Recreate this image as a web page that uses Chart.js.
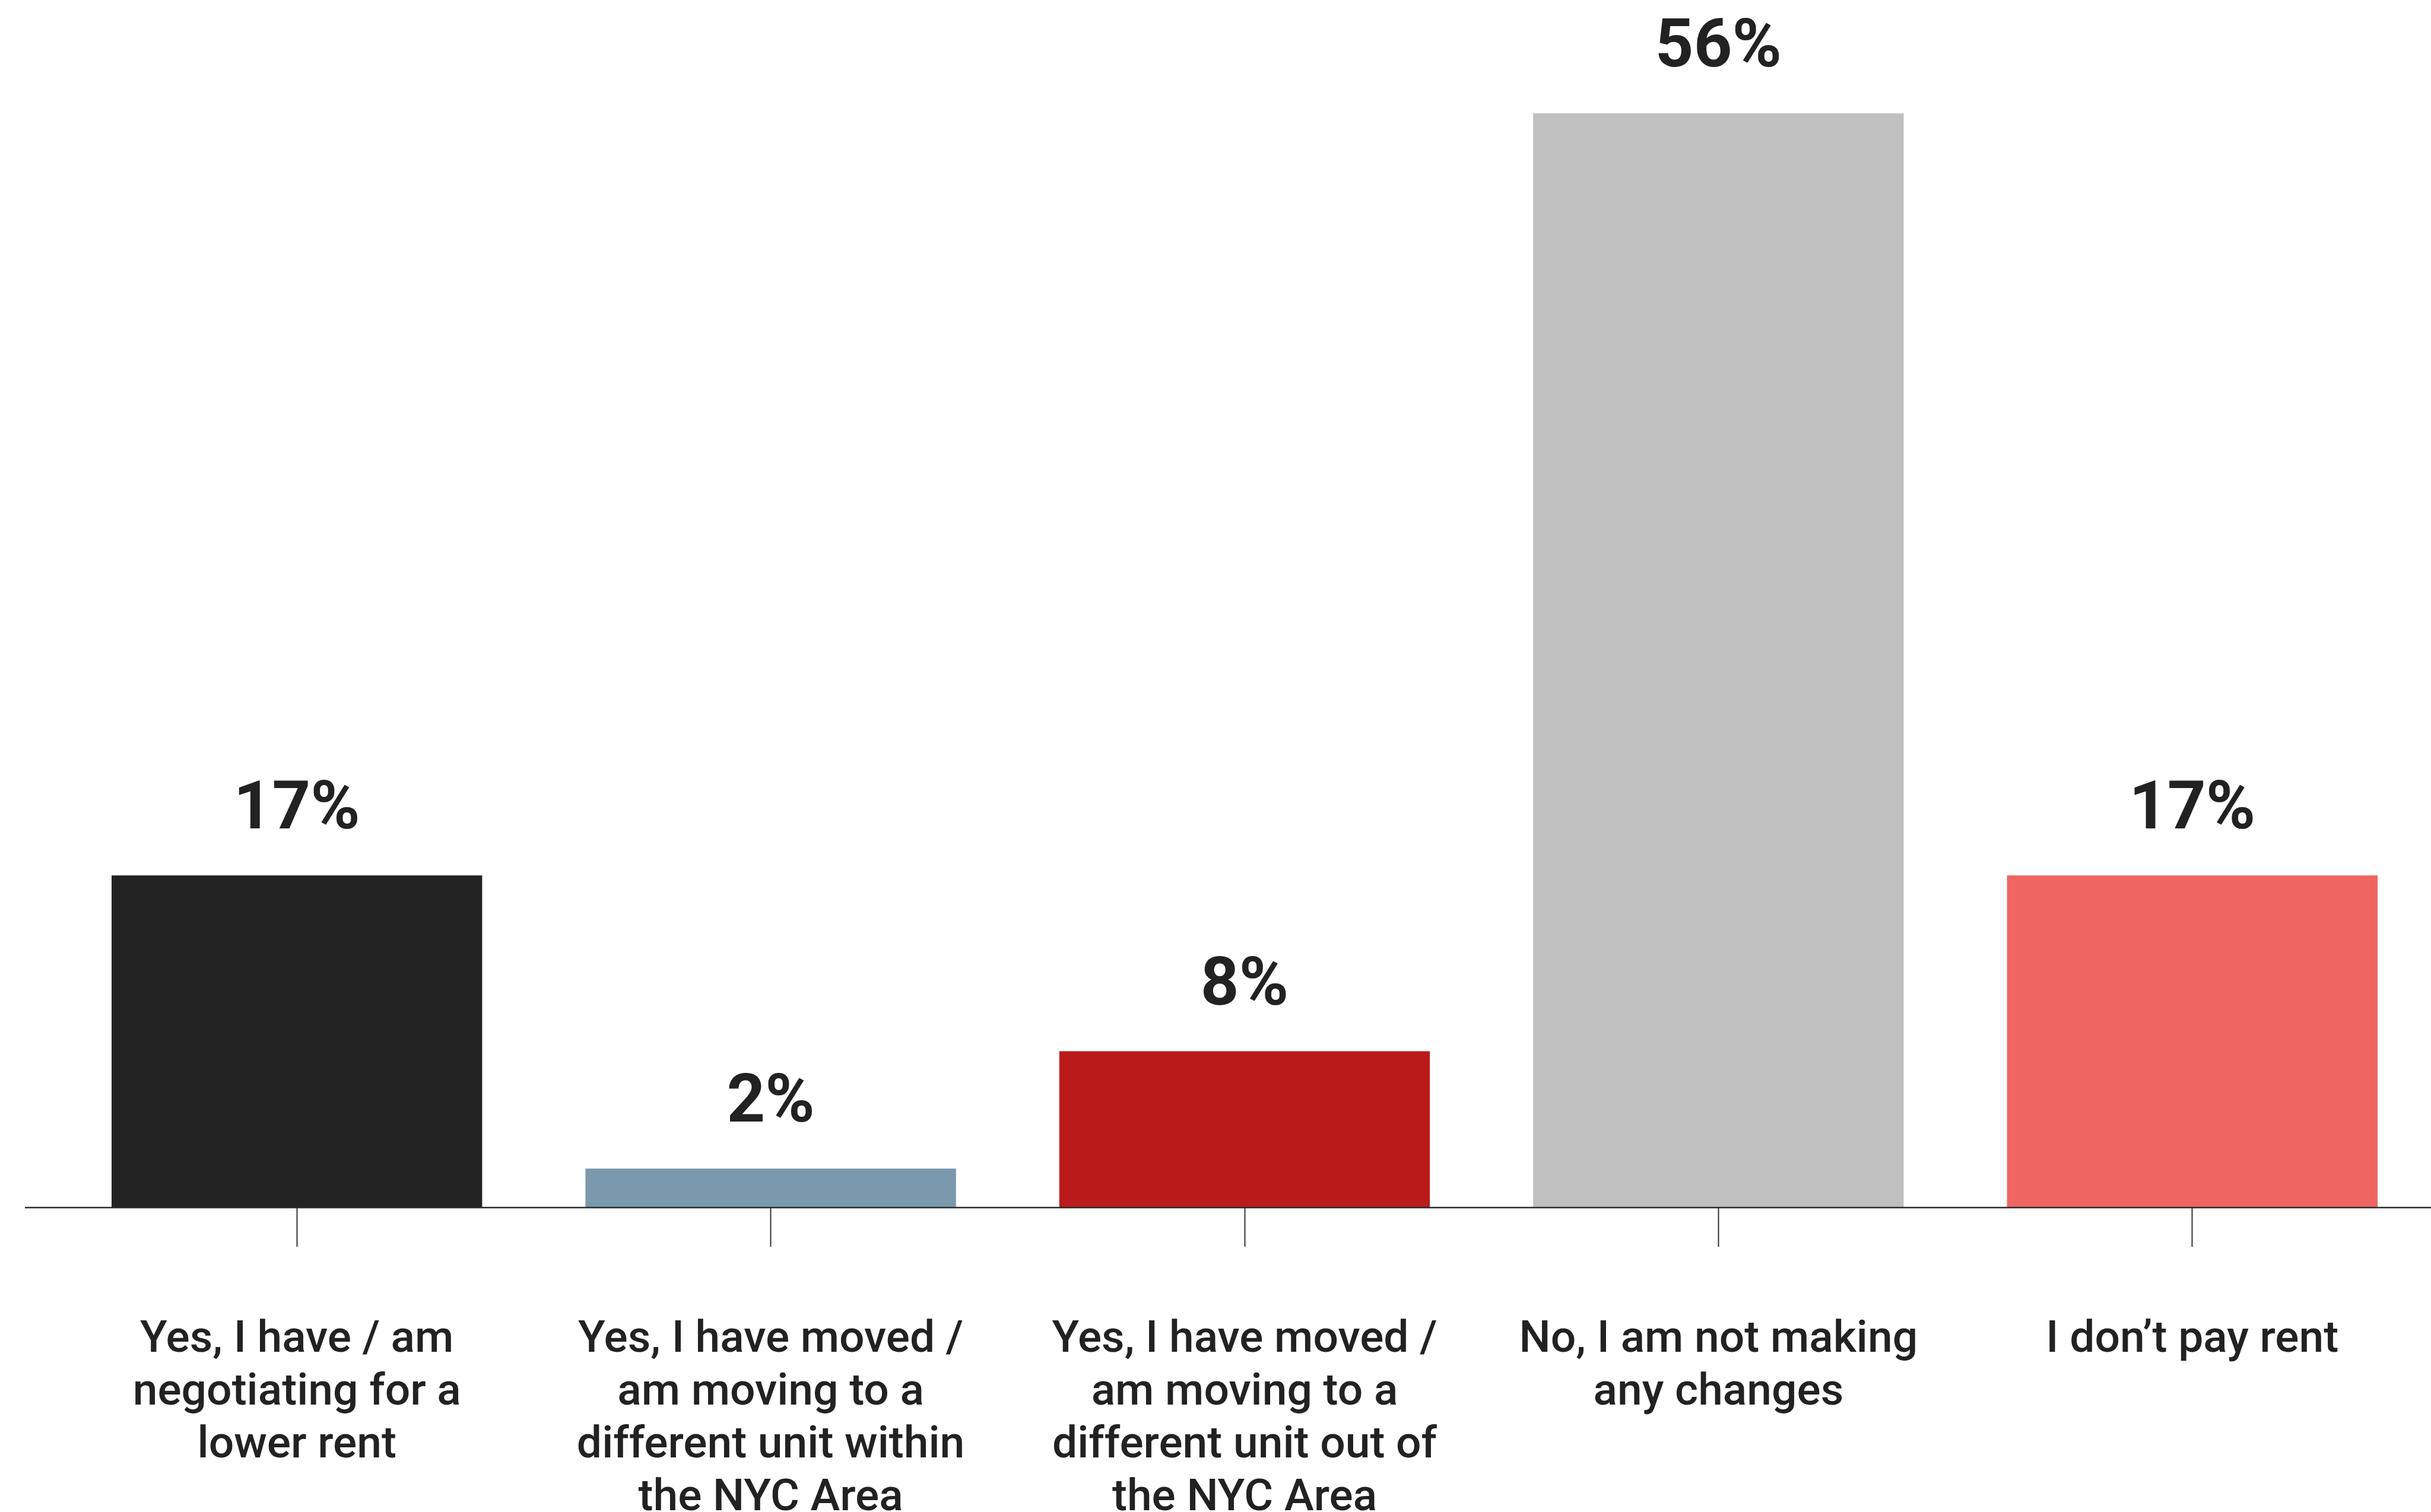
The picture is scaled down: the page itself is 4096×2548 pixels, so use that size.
<!DOCTYPE html>
<html>
<head>
<meta charset="utf-8">
<title>Rent changes</title>
<script src="https://cdn.jsdelivr.net/npm/chart.js@4"></script>
<style>
  html, body { margin: 0; padding: 0; background: #ffffff; overflow: hidden; }
  canvas { display: block; }
</style>
</head>
<body>
<canvas id="rentChart" width="4096" height="2548"></canvas>
<script>
// answers, one per bar (label lines are split by hand)
const answers = [
    ['Yes, I have / am', 'negotiating for a', 'lower rent'],
    ['Yes, I have moved /', 'am moving to a', 'different unit within', 'the NYC Area'],
    ['Yes, I have moved /', 'am moving to a', 'different unit out of', 'the NYC Area'],
    ['No, I am not making', 'any changes'],
    ['I don\u2019t pay rent']
];
const shares = [17, 2, 8, 56, 17]; // % of respondents
const barColors = ['#232323', '#7a99ac', '#bb1a1a', '#c0c0c0', '#ef6561'];

const inkColor = '#222222';

// percentage printed above each bar
const valueLabels = {
    id: 'valueLabels',
    afterDatasetsDraw(chart) {
        const ctx = chart.ctx;
        const meta = chart.getDatasetMeta(0);
        ctx.save();
        ctx.font = 'bold 113px Roboto';
        ctx.fillStyle = inkColor;
        ctx.textAlign = 'center';
        ctx.textBaseline = 'alphabetic';
        meta.data.forEach(function(bar, i) {
            ctx.fillText(shares[i] + '%', bar.x, bar.y - 79);
        });
        ctx.restore();
    }
};

// baseline runs a little past the plot on the left, to the canvas edge on the right
const baseline = {
    id: 'baseline',
    afterDatasetsDraw(chart) {
        const ctx = chart.ctx;
        const y = chart.scales.y.getPixelForValue(0);
        ctx.save();
        ctx.strokeStyle = '#2b2b2b';
        ctx.lineWidth = 2.5;
        ctx.beginPath();
        ctx.moveTo(42, y);
        ctx.lineTo(chart.width, y);
        ctx.stroke();
        ctx.restore();
    }
};

function draw() {
    const ctx = document.getElementById('rentChart').getContext('2d');
    new Chart(ctx, {
        type: 'bar',
        data: {
            labels: answers,
            datasets: [{
                data: shares,
                backgroundColor: barColors,
                borderWidth: 0,
                barPercentage: 0.782,
                categoryPercentage: 1
            }]
        },
        options: {
            responsive: false,
            animation: false,
            events: [],
            layout: {
                padding: { left: 101, right: 3, top: 191, bottom: 0 }
            },
            plugins: {
                legend: { display: false },
                tooltip: { enabled: false }
            },
            scales: {
                y: {
                    display: false,
                    min: 0,
                    max: 56
                },
                x: {
                    offset: true,
                    border: { display: false },
                    grid: {
                        offset: false,
                        drawOnChartArea: false,
                        drawTicks: true,
                        tickLength: 66,
                        tickWidth: 2,
                        tickColor: '#333333'
                    },
                    ticks: {
                        autoSkip: false,
                        maxRotation: 0,
                        minRotation: 0,
                        padding: 114,
                        color: inkColor,
                        font: { family: 'Roboto', size: 75, weight: 500, lineHeight: 1.187 }
                    },
                    afterFit: function(scale) {
                        // labels are allowed to run off the bottom edge
                        scale.height = 513;
                    }
                }
            }
        },
        plugins: [baseline, valueLabels]
    });
}

Promise.all([
    document.fonts.load('bold 113px Roboto'),
    document.fonts.load('500 75px Roboto')
]).then(draw, draw);
</script>
</body>
</html>
